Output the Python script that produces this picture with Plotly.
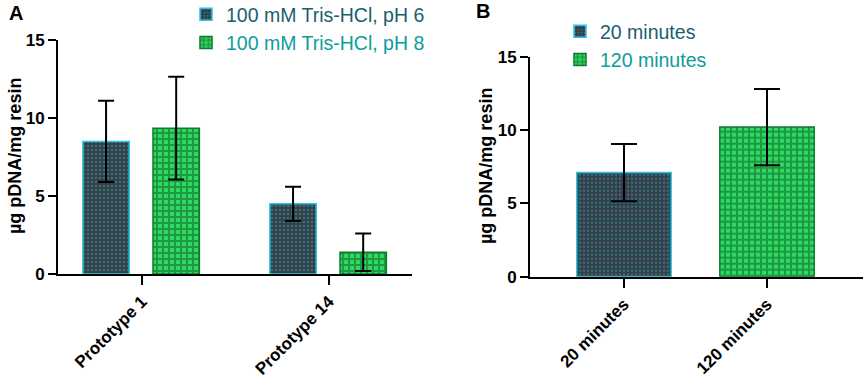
import plotly.graph_objects as go

W, H = 865, 378

# Panel A data
cats_a = ["Prototype 1", "Prototype 14"]
ph6_vals = [8.5, 4.5]
ph6_err = [2.6, 1.1]
ph8_vals = [9.35, 1.4]
ph8_err = [3.3, 1.2]
names_a = ["100 mM Tris-HCl, pH 6", "100 mM Tris-HCl, pH 8"]

# Panel B data
cats_b = ["20 minutes", "120 minutes"]
b_vals = [7.1, 10.2]
b_err = [1.95, 2.6]

y_ticks = [0, 5, 10, 15]

DARK_BG = "#3a3b40"
DOT = "#1fa9c9"
CYAN_LINE = "#2bc4e4"
GREEN_BG = "#2fd862"
GREEN_FG = "#0b5a1f"
GREEN_LINE = "#0e7a2c"

FONT = "Arial, Liberation Sans, sans-serif"

def px(x):
    return x / W

def py(y):
    return 1 - y / H

fig = go.Figure()

dot_marker = dict(color=DARK_BG, line=dict(color=CYAN_LINE, width=1.5),
                  pattern=dict(shape=".", fgcolor=DOT, bgcolor=DARK_BG, size=4, solidity=0.35))
chk_marker = dict(color=GREEN_BG, line=dict(color=GREEN_LINE, width=1.5),
                  pattern=dict(shape="+", fgcolor=GREEN_FG, bgcolor=GREEN_BG, size=6, solidity=0.55))

fig.add_trace(go.Bar(x=cats_a, y=ph6_vals, name='<span style="color:#1b5e6e">' + names_a[0] + '</span>',
                     marker=dot_marker, width=0.248, offset=-0.316,
                     error_y=dict(type="data", array=ph6_err, color="black", thickness=2, width=8),
                     xaxis="x", yaxis="y", legend="legend"))
fig.add_trace(go.Bar(x=cats_a, y=ph8_vals, name='<span style="color:#0d9c9c">' + names_a[1] + '</span>',
                     marker=chk_marker, width=0.248, offset=0.059,
                     error_y=dict(type="data", array=ph8_err, color="black", thickness=2, width=8),
                     xaxis="x", yaxis="y", legend="legend"))

fig.add_trace(go.Bar(x=[cats_b[0]], y=[b_vals[0]], name='<span style="color:#1b5e6e">' + cats_b[0] + '</span>',
                     marker=dot_marker, width=0.66,
                     error_y=dict(type="data", array=[b_err[0]], color="black", thickness=2, width=13),
                     xaxis="x2", yaxis="y2", legend="legend2"))
fig.add_trace(go.Bar(x=[cats_b[1]], y=[b_vals[1]], name='<span style="color:#0d9c9c">' + cats_b[1] + '</span>',
                     marker=chk_marker, width=0.66,
                     error_y=dict(type="data", array=[b_err[1]], color="black", thickness=2, width=13),
                     xaxis="x2", yaxis="y2", legend="legend2"))

line_common = dict(showline=True, linecolor="black", linewidth=2, ticks="outside",
                   tickcolor="black", tickwidth=2, showgrid=False, zeroline=False,
                   automargin=False)
yfont = dict(family=FONT, size=17, color="black", weight="bold")
xfont = dict(family=FONT, size=17, color="black", weight="bold")

fig.update_layout(
    width=W, height=H, margin=dict(l=0, r=0, t=0, b=0, autoexpand=False),
    paper_bgcolor="white", plot_bgcolor="white",
    barmode="overlay", font=dict(family=FONT),
    xaxis=dict(domain=[px(58), px(412)], range=[-0.449, 1.444], anchor="y",
               tickangle=-45, ticklen=9, categoryorder="array", categoryarray=cats_a,
               tickfont=xfont, **line_common),
    yaxis=dict(domain=[py(274), py(40)], range=[0, 15], anchor="x", tickvals=y_ticks,
               ticklen=8, tickfont=yfont, **line_common),
    xaxis2=dict(domain=[px(530), px(863)], range=[-0.657, 1.671], anchor="y2",
                tickangle=-45, ticklen=9, categoryorder="array", categoryarray=cats_b,
                tickfont=xfont, **line_common),
    yaxis2=dict(domain=[py(276.7), py(56.7)], range=[0, 15], anchor="x2", tickvals=y_ticks,
                ticklen=8, tickfont=yfont, **line_common),
    legend=dict(x=px(186), y=py(-5), xanchor="left", yanchor="top", bgcolor="rgba(0,0,0,0)",
                font=dict(family=FONT, size=19.5), itemwidth=30, tracegroupgap=0),
    legend2=dict(x=px(560), y=py(12), xanchor="left", yanchor="top", bgcolor="rgba(0,0,0,0)",
                 font=dict(family=FONT, size=19.5), itemwidth=30, tracegroupgap=0),
    showlegend=True,
)

ann = dict(xref="paper", yref="paper", xanchor="center", yanchor="middle", showarrow=False)
fig.add_annotation(text="<b>A</b>", x=px(16), y=py(13), font=dict(family=FONT, size=20, color="black"), **ann)
fig.add_annotation(text="<b>B</b>", x=px(483), y=py(11), font=dict(family=FONT, size=20, color="black"), **ann)
fig.add_annotation(text="<b>µg pDNA/mg resin</b>", x=px(15), y=py(156), textangle=-90,
                   font=dict(family=FONT, size=18, color="black"), **ann)
fig.add_annotation(text="<b>µg pDNA/mg resin</b>", x=px(486), y=py(166), textangle=-90,
                   font=dict(family=FONT, size=18, color="black"), **ann)

fig.write_html("out.html", config={"displayModeBar": False},
               post_script="document.body.style.margin='0';document.body.style.overflow='hidden';")
